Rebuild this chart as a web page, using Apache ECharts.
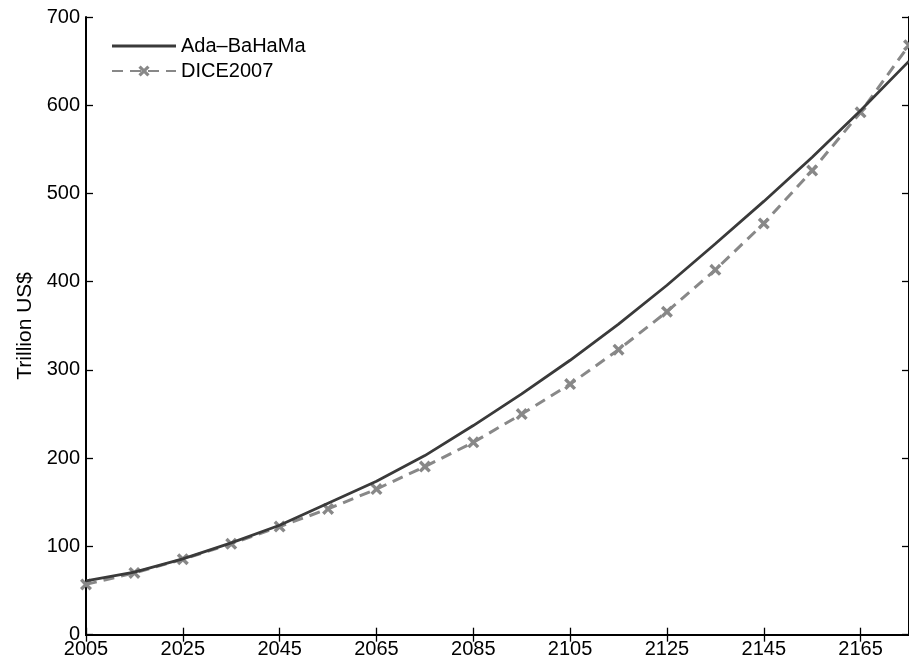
<!DOCTYPE html>
<html>
<head>
<meta charset="utf-8">
<script src="https://cdn.jsdelivr.net/npm/echarts@6/dist/echarts.min.js"></script>
<style>
html,body{margin:0;padding:0;background:#fff;}
#chart{width:909px;height:669px;}
</style>
</head>
<body>
<div id="chart"></div>
<script>
var years = [2005,2015,2025,2035,2045,2055,2065,2075,2085,2095,2105,2115,2125,2135,2145,2155,2165,2175];
var adaBaHaMa = [61,71,86,104,124,149,174,203,237,273,311,352,396,443,491,541,594,650];
var dice2007 = [57,70,85.5,103,122.5,142.5,165,190.5,218,250,284,323,366,413.5,466,526,592,668];
var xTicks = [2005,2025,2045,2065,2085,2105,2125,2145,2165];
var yTicks = [0,100,200,300,400,500,600,700];
var seriesNames = ['Ada\u2013BaHaMa','DICE2007'];
var yLabel = 'Trillion US$';

function pairs(xs, ys){ return xs.map(function(x,i){ return [x, ys[i]]; }); }

var FONT = 'Liberation Sans';
var xMark = 'path://M2,0 L5,3 L8,0 L10,2 L7,5 L10,8 L8,10 L5,7 L2,10 L0,8 L3,5 L0,2 Z';
var solidIcon = 'path://M0,0 L64,0 L64,3 L0,3 Z';

var chart = echarts.init(document.getElementById('chart'), null, {renderer:'canvas'});
var axisLine = {show:true, lineStyle:{color:'#000', width:2}};
var tick = {show:true, inside:true, length:7, lineStyle:{color:'#000', width:1.3}};
chart.setOption({
  animation:false,
  backgroundColor:'#fff',
  grid:{left:86, top:17, width:827, bottom:34.3, containLabel:false},
  legend:{
    orient:'vertical', left:106, top:31,
    itemWidth:64, itemHeight:14, itemGap:5,
    textStyle:{fontFamily:FONT, fontSize:20, color:'#000'},
    data:[{name:seriesNames[0], icon:solidIcon, itemStyle:{color:'#3a3a3a'}}, {name:seriesNames[1]}]
  },
  xAxis:[{
    type:'value', min:2005, max:2175, position:'bottom',
    axisLine:axisLine,
    axisTick:Object.assign({customValues:xTicks}, tick),
    axisLabel:{customValues:xTicks, fontFamily:FONT, fontSize:20, color:'#000', margin:5,
      formatter:function(v){ return String(v); }},
    splitLine:{show:false}
  },{
    type:'value', min:2005, max:2175, position:'top',
    axisLine:axisLine,
    axisTick:Object.assign({customValues:xTicks}, tick),
    axisLabel:{show:false},
    splitLine:{show:false}
  }],
  yAxis:[{
    type:'value', min:0, max:700, interval:100, position:'left',
    name:yLabel, nameLocation:'middle', nameGap:50,
    nameTextStyle:{fontFamily:FONT, fontSize:21, color:'#000'},
    axisLine:axisLine,
    axisTick:tick,
    axisLabel:{fontFamily:FONT, fontSize:20, color:'#000', margin:6, customValues:yTicks,
      formatter:function(v){ return String(v); }},
    splitLine:{show:false}
  },{
    type:'value', min:0, max:700, interval:100, position:'right',
    axisLine:axisLine,
    axisTick:tick,
    axisLabel:{show:false},
    splitLine:{show:false}
  }],
  series:[{
    name:seriesNames[0], type:'line', xAxisIndex:0, yAxisIndex:0,
    data:pairs(years, adaBaHaMa),
    showSymbol:false, symbol:'none',
    lineStyle:{color:'#3a3a3a', width:2.8},
    itemStyle:{color:'#3a3a3a'},
    z:3
  },{
    name:seriesNames[1], type:'line', xAxisIndex:0, yAxisIndex:0,
    data:pairs(years, dice2007),
    symbol:xMark, symbolSize:12, showSymbol:true,
    lineStyle:{color:'#888888', width:3, type:[11,7]},
    itemStyle:{color:'#888888'},
    z:2
  }]
});
</script>
</body>
</html>
